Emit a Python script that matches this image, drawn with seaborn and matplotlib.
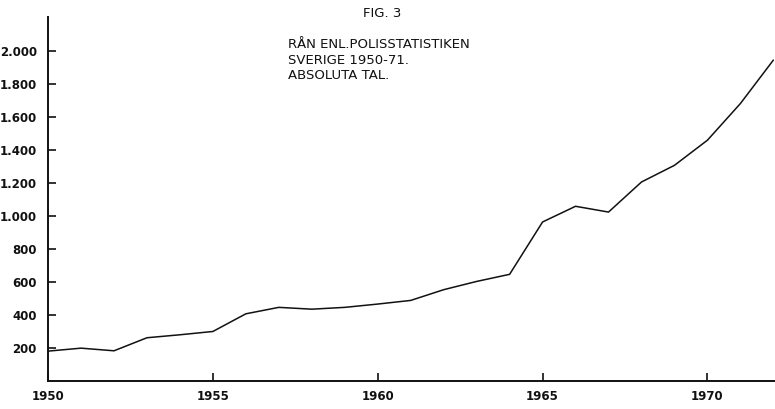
import numpy as np
import pandas as pd
import matplotlib
matplotlib.use("Agg")
import matplotlib.pyplot as plt
import seaborn as sns
from matplotlib.ticker import FuncFormatter

# Värden (rån enligt polisstatistiken)
years = [1950, 1951, 1952, 1953, 1954, 1955, 1956, 1957, 1958, 1959, 1960,
         1961, 1962, 1963, 1964, 1965, 1966, 1967, 1968, 1969, 1970, 1971, 1972]
robberies = [182, 200, 184, 263, 281, 301, 408, 447, 436, 447, 467,
             489, 554, 604, 647, 964, 1059, 1024, 1206, 1307, 1459, 1681, 1944]
y_ticks = [200, 400, 600, 800, 1000, 1200, 1400, 1600, 1800, 2000]
x_ticks = [1950, 1955, 1960, 1965, 1970]

df = pd.DataFrame({"ar": years, "ran": robberies})

sns.set_style("ticks")
plt.rcParams["font.family"] = ["DejaVu Sans"]

fig = plt.figure(figsize=(7.75, 4.09), dpi=100)
ax = fig.add_axes([0.062, 0.068, 0.938, 0.89])

sns.lineplot(data=df, x="ar", y="ran", ax=ax, color="#111111", linewidth=1.1)

ax.set_xlim(1950, 1972.05)
ax.set_ylim(0, 2204)
ax.set_xticks(x_ticks)
ax.set_yticks(y_ticks)
ax.yaxis.set_major_formatter(FuncFormatter(lambda v, p: f"{int(v):,}".replace(",", ".")))
ax.tick_params(direction="in", length=6, width=1.2, colors="#111111", labelsize=8.5)
for lab in ax.get_xticklabels() + ax.get_yticklabels():
    lab.set_fontweight("bold")
ax.tick_params(axis="y", pad=8)
ax.tick_params(axis="x", pad=6)
ax.set_xlabel("")
ax.set_ylabel("")
sns.despine(ax=ax)
for s in ["left", "bottom"]:
    ax.spines[s].set_linewidth(1.4)
    ax.spines[s].set_color("#111111")

fig.text(0.493, 0.966, "FIG. 3", ha="center", va="center", fontsize=9.5, color="#111111")
fig.text(0.372, 0.907, "RÅN ENL.POLISSTATISTIKEN\nSVERIGE 1950-71.\nABSOLUTA TAL.",
         ha="left", va="top", fontsize=9.5, color="#111111", linespacing=1.25)

fig.savefig("out.png", dpi=100)
